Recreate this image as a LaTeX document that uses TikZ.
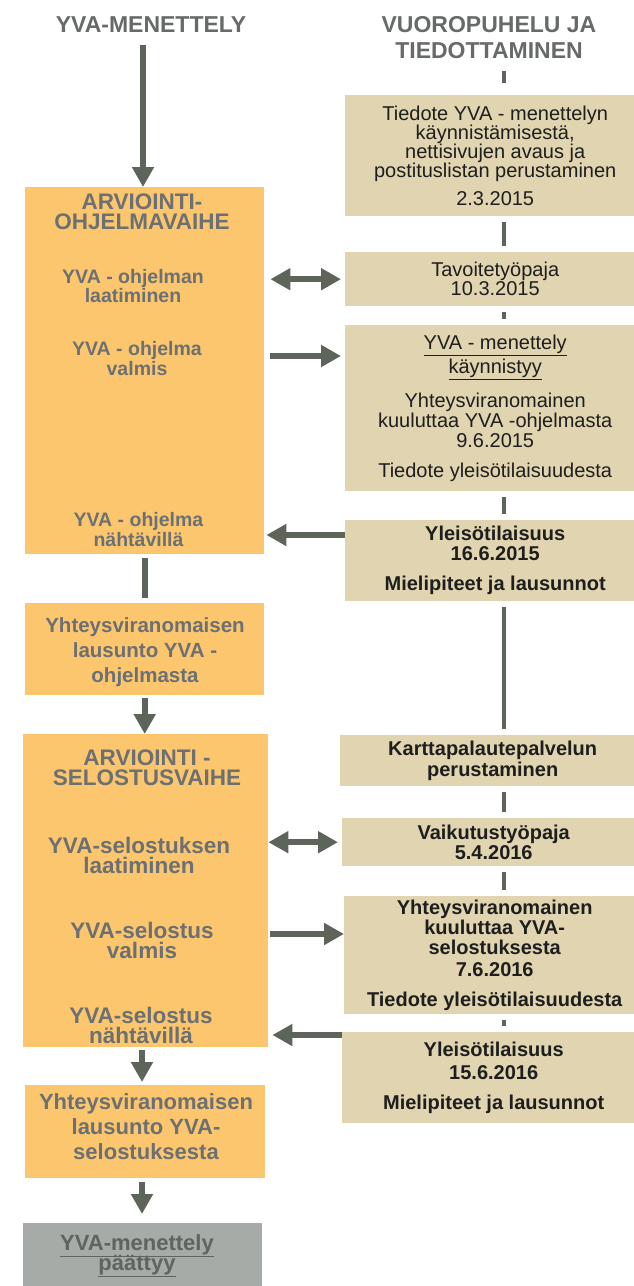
\documentclass[tikz,border=0pt]{standalone}
\usepackage{fontspec}
\setmainfont{Liberation Sans}
\usetikzlibrary{arrows.meta}
\definecolor{orangeC}{HTML}{FCC66E}
\definecolor{tanC}{HTML}{E1D4B0}
\definecolor{greyC}{HTML}{A7ABA7}
\definecolor{arrowC}{HTML}{5D655B}
\definecolor{headC}{HTML}{666A68}
\definecolor{olabC}{HTML}{6C7072}
\definecolor{glabC}{HTML}{5F6361}
\definecolor{inkC}{HTML}{1E1E1E}
\newcommand{\fs}[2]{\fontsize{#1}{#2}\selectfont\lineskiplimit=-100pt\relax}
\begin{document}
\begin{tikzpicture}[x=1pt,y=-1pt,
  obox/.style={fill=orangeC, draw=none, inner sep=0pt, anchor=north west},
  gbox/.style={fill=greyC, draw=none, inner sep=0pt, anchor=north west},
  tbox/.style={fill=tanC, draw=none, inner sep=0pt, anchor=north west, align=center, text=inkC},
  olab/.style={text=olabC, align=center, inner sep=0pt},
  head/.style={text=headC, align=center, inner sep=0pt, font=\bfseries\fs{23}{25.5}},
  arr/.style={draw=arrowC, line width=6pt, -{Triangle[length=20pt,width=21pt]}},
  darr/.style={draw=arrowC, line width=6pt, {Triangle[length=20pt,width=21pt]}-{Triangle[length=20pt,width=21pt]}},
  lline/.style={draw=arrowC, line width=6pt},
  rline/.style={draw=arrowC, line width=4pt, shorten <=6pt, shorten >=6pt}]
\fill[white] (0,0) rectangle (633,1286);
\useasboundingbox (0,0) rectangle (633,1286);

% headings
\node[head] (h1) at (151,25) {YVA-MENETTELY};
\node[head] (h2) at (489,37.7) {VUOROPUHELU JA\\TIEDOTTAMINEN};

% left column boxes
\node[obox, minimum width=239pt, minimum height=367pt] (ob1) at (25,187) {};
\node[obox, minimum width=239pt, minimum height=92pt] (ob2) at (25,603) {};
\node[obox, minimum width=245pt, minimum height=313pt] (ob3) at (23,734) {};
\node[obox, minimum width=240pt, minimum height=93pt] (ob4) at (25,1085) {};
\node[gbox, minimum width=239pt, minimum height=70pt] (gb) at (23,1223) {};

% left labels
\node[olab, font=\bfseries\fs{22.5}{20}] (lh1) at (142,211.5) {ARVIOINTI-\\OHJELMAVAIHE};
\node[olab, font=\bfseries\fs{19.5}{19}] (lb1) at (133,286.5) {YVA - ohjelman\\laatiminen};
\node[olab, font=\bfseries\fs{19.5}{20}] (lb2) at (137,359) {YVA - ohjelma\\valmis};
\node[olab, font=\bfseries\fs{19.5}{20}] (lb3) at (138.5,530) {YVA - ohjelma\\nähtävillä};
\node[olab, font=\bfseries\fs{20.5}{25}] (lb4) at (145,652) {Yhteysviranomaisen\\lausunto YVA -\\ohjelmasta};
\node[olab, font=\bfseries\fs{22.5}{20}] (lh2) at (147,768) {ARVIOINTI -\\SELOSTUSVAIHE};
\node[olab, font=\bfseries\fs{22.5}{20}] (lb5) at (139,855) {YVA-selostuksen\\laatiminen};
\node[olab, font=\bfseries\fs{22.5}{20}] (lb6) at (142,940) {YVA-selostus\\valmis};
\node[olab, font=\bfseries\fs{22.5}{20}] (lb7) at (141,1025.5) {YVA-selostus\\nähtävillä};
\node[olab, font=\bfseries\fs{22}{25}] (lb8) at (146,1127) {Yhteysviranomaisen\\lausunto YVA-\\selostuksesta};
\node[olab, text=glabC, font=\bfseries\fs{22}{20}] (gl) at (137,1256) {\underline{YVA-menettely}\\\underline{päättyy}};

% right column boxes
\node[tbox, minimum width=300pt, minimum height=121pt, font=\fs{20}{19}] (t1) at (345,95)
  {Tiedote YVA - menettelyn\\käynnistämisestä,\\nettisivujen avaus ja\\postituslistan perustaminen\\[9pt]2.3.2015};
\node[tbox, minimum width=300pt, minimum height=54pt, font=\fs{20}{19}] (t2) at (345,252)
  {Tavoitetyöpaja\\10.3.2015};
\node[tbox, minimum width=300pt, minimum height=166pt, font=\fs{20}{20}] (t3) at (345,325)
  {\underline{YVA - menettely}\\[4pt]\underline{käynnistyy}\\[14pt]Yhteysviranomainen\\kuuluttaa YVA -ohjelmasta\\9.6.2015\\[10pt]Tiedote yleisötilaisuudesta};
\node[tbox, minimum width=300pt, minimum height=81pt, font=\bfseries\fs{20}{20}] (t4) at (345,520)
  {Yleisötilaisuus\\16.6.2015\\[10pt]Mielipiteet ja lausunnot};
\node[tbox, minimum width=305pt, minimum height=51pt, font=\bfseries\fs{20}{21}] (t5) at (340,735)
  {Karttapalautepalvelun\\perustaminen};
\node[tbox, minimum width=303pt, minimum height=48pt, font=\bfseries\fs{20}{20}] (t6) at (342,818)
  {Vaikutustyöpaja\\5.4.2016};
\node[tbox, minimum width=301pt, minimum height=118pt, font=\bfseries\fs{20}{20}] (t7) at (344,896)
  {Yhteysviranomainen\\kuuluttaa YVA-\\selostuksesta\\[2pt]7.6.2016\\[10pt]Tiedote yleisötilaisuudesta};
\node[tbox, minimum width=303pt, minimum height=91pt, font=\bfseries\fs{20}{20}] (t8) at (342,1032)
  {Yleisötilaisuus\\[3pt]15.6.2016\\[10pt]Mielipiteet ja lausunnot};

% left column connectors
\coordinate (s0) at (143,45);
\coordinate (lc) at (142,0);
\draw[arr] (s0) -- (s0 |- ob1.north);
\draw[lline, shorten <=4pt, shorten >=5pt] (ob1.south) -- (ob2.north);
\draw[arr, shorten <=3pt] (ob2.south) -- (ob2.south |- ob3.north);
\draw[arr, shorten <=3pt, shorten >=3pt] (ob3.south -| lc) -- (ob4.north -| lc);
\draw[arr, shorten <=4pt, shorten >=9pt] (ob4.south -| lc) -- (gb.north -| lc);

% right column line
\coordinate (rc) at (504,0);
\draw[rline, shorten <=12pt, shorten >=12pt] (h2.south -| rc) -- (t1.north -| rc);
\foreach \a/\b in {t1/t2,t2/t3,t3/t4,t4/t5,t5/t6,t6/t7,t7/t8}
  \draw[rline] (\a.south -| rc) -- (\b.north -| rc);

% horizontal connectors
\draw[darr, shorten <=6pt, shorten >=4pt] (ob1.east |- t2.west) -- (t2.west);
\path ([yshift=3pt]lb2.center) coordinate (y2);
\draw[arr, shorten <=6pt, shorten >=4pt] (ob1.east |- y2) -- (t3.west |- y2);
\path ([yshift=-15pt]t4.north west) coordinate (y3);
\draw[arr, shorten >=2pt] (y3) -- (y3 -| ob1.east);
\draw[darr, shorten >=4pt] (ob3.east |- t6.west) -- (t6.west);
\path ([yshift=6pt]lb6.center) coordinate (y5);
\draw[arr, shorten <=2pt] (ob3.east |- y5) -- (t7.west |- y5);
\path ([yshift=-3pt]t8.north west) coordinate (y6);
\draw[arr, shorten >=4pt] (y6) -- (y6 -| ob3.east);
\end{tikzpicture}
\end{document}
